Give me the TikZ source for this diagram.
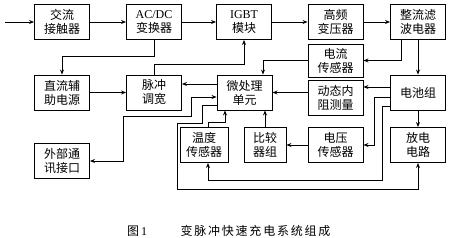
\documentclass[tikz,border=0pt]{standalone}
\usepackage{fontspec}
\setmainfont{Liberation Serif}
\newfontfamily\cjk{Noto Sans CJK SC}
\newfontfamily\cjkwide[LetterSpace=15]{Noto Sans CJK SC}
\usetikzlibrary{arrows.meta}

\begin{document}
\begin{tikzpicture}[x=1pt, y=-1pt,
    >={Stealth[length=5pt,width=4pt]},
    line width=0.9pt,
    box/.style={draw, minimum width=55, minimum height=35, inner sep=0pt,
      align=center, font=\cjk\fontsize{12}{14}\selectfont},
    edge/.style={->}]
  \useasboundingbox (0,0) rectangle (450,238);

  % 主电路 (上排)
  \coordinate (ac) at (5,22);
  \node[box] (jc)   at (62,22)    {交流\\接触器};
  \node[box] (acdc) at (154,22)   {{\rmfamily AC/DC}\\变换器};
  \node[box] (igbt) at (244,22)   {{\rmfamily IGBT}\\模块};
  \node[box] (hf)   at (335.5,22) {高频\\变压器};
  \node[box] (rf)   at (418,22)   {整流滤\\波电器};

  % 中间一排
  \node[box] (aux)  at (62,92.5)    {直流辅\\助电源};
  \node[box] (pwm)  at (154,92.5)   {脉冲\\调宽};
  \node[box] (mcu)  at (244.5,92.5) {微处理\\单元};
  \node[box, minimum height=33] (cs) at (335.5,60.5) {电流\\传感器};
  \node[box] (dr)   at (335.5,97.5) {动态内\\阻测量};
  \node[box] (bat)  at (418,92.5)   {电池组};

  % 下排
  \node[box] (com)  at (62,161)  {外部通\\讯接口};
  \node[box, minimum width=48] (ts)  at (204,145) {温度\\传感器};
  \node[box, minimum width=42] (cmp) at (265,145) {比较\\器组};
  \node[box] (vs)   at (335.5,145) {电压\\传感器};
  \node[box] (dis)  at (418,145)   {放电\\电路};

  % 图题
  \node[inner sep=0pt, font=\fontsize{12}{14}\selectfont] (capnum) at (137,231) {{\cjk 图}\,1};
  \node[inner sep=0pt, font=\cjkwide\fontsize{12}{14}\selectfont] (captext) at (255.5,231)
    {变脉冲快速充电系统组成};

  % 主电路连线
  \draw[edge] (ac) -- (jc);
  \draw[edge] (jc) -- (acdc);
  \draw[edge] (acdc) -- (igbt);
  \draw[edge] (igbt) -- (hf);
  \draw[edge] (hf) -- (rf);
  \draw[edge] (rf) -- (bat);
  \draw[edge] (bat) -- (dis);

  % 辅助电源与脉冲调宽
  \draw[edge] (acdc.south) -- ++(0,17) -| (aux.north);
  \draw[edge] (aux) -- (pwm);
  \draw[edge] (pwm.north) -- ++(0,-10) -| (igbt.south);

  % 检测信号
  \draw[edge] ([xshift=-17pt]rf.south) |- (cs.east);
  \draw[edge] (cs.west) -| ([xshift=18.5pt]mcu.north);
  \draw[edge] (bat.west |- 0,87) -- (dr.east |- 0,87);
  \draw[edge] (dr.west |- mcu.east) -- (mcu.east);
  \draw[edge] (bat.west |- 0,97) -- ++(-16,0) |- (vs.east);
  \draw[edge] (bat.west |- 0,106) -- ++(-8,0) -- ++(0,74) -| ([xshift=4pt]ts.south);
  \draw[edge] (vs) -- (cmp);
  \draw[edge] (cmp.north) -- (cmp.north |- mcu.south);
  \draw[edge] ([xshift=4pt]ts.north) -- ++(0,-5) -| ([xshift=-19.5pt]mcu.south);

  % 控制输出
  \draw[edge] (mcu.west |- 0,84) -- (pwm.east |- 0,84);
  \draw[edge] (mcu.west |- 0,105) -| (202,123) -| (177,189) -| (dis.south);
  \draw[<->] (com.east) -| ++(33,-45) -| ++(68,-19) -- (mcu.west |- 0,97);

\end{tikzpicture}
\end{document}
